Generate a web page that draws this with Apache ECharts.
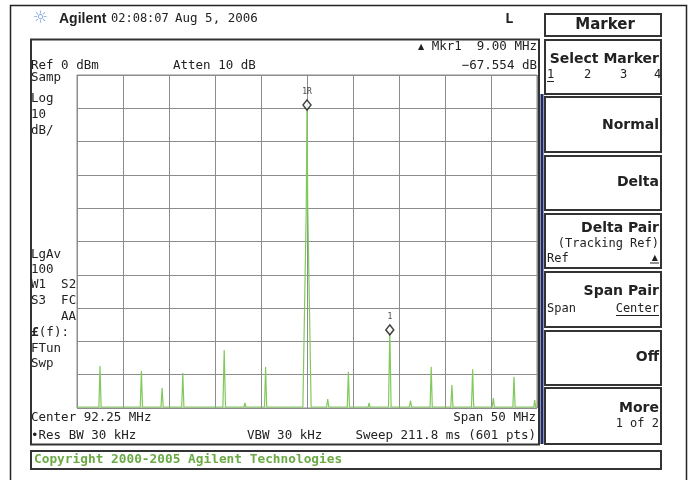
<!DOCTYPE html>
<html>
<head>
<meta charset="utf-8">
<script src="https://cdn.jsdelivr.net/npm/echarts@6/dist/echarts.min.js"></script>
<style>html,body{margin:0;padding:0;background:#fff;}#main{width:690px;height:480px;}</style>
</head>
<body>
<div id="main"></div>
<script>
const centerFreq = 92.25;          // MHz
const spanMHz = 50;                // MHz
const refLevel = 0;                // dBm
const dbPerDiv = 10;
const noiseFloor = -99.7;          // dBm
// spurious lines (MHz, dBm)
const spurFreqs  = [69.75, 74.25, 76.5, 78.75, 83.25, 85.5, 87.75, 94.5, 96.75, 99.0, 101.25, 103.5, 105.75, 108.0, 110.25, 112.5, 114.75, 117.0];
const spurLevels = [-87.4, -88.8, -94.0, -89.5, -82.6, -98.5, -87.7, -97.3, -89.1, -98.5, -76.55, -97.8, -87.6, -93.1, -88.4, -97.0, -90.6, -97.6];
const spurSkirts = [0.12, 0.12, 0.12, 0.12, 0.14, 0.1, 0.12, 0.12, 0.12, 0.1, 0.14, 0.12, 0.12, 0.12, 0.12, 0.12, 0.12, 0.1];
// main carrier trace points (offset from centre MHz, dBm)
const mainOffsets = [-0.45, -0.08, 0, 0.08, 0.45];
const mainLevels  = [-99.7, -40, -9.0, -40, -99.7];
const markerFreqs  = [92.25, 101.25];
const markerLevels = [-9.0, -76.55];
const markerNames  = ['1R', '1'];

// build trace (x = offset from centre, MHz)
let pts = [[-spanMHz / 2, noiseFloor], [spanMHz / 2, noiseFloor]];
spurFreqs.forEach((f, i) => {
  const o = f - centerFreq;
  pts.push([o - spurSkirts[i], noiseFloor], [o, spurLevels[i]], [o + spurSkirts[i], noiseFloor]);
});
mainOffsets.forEach((o, i) => pts.push([o, mainLevels[i]]));
const trace = pts.map((p, i) => [p[0], p[1], i]).sort((a, b) => a[0] - b[0] || a[2] - b[2]).map(p => [p[0], p[1]]);
const markers = markerFreqs.map((f, i) => ({ value: [f - centerFreq, markerLevels[i]], name: markerNames[i] }));

const MONO = '"DejaVu Sans Mono", monospace';
const SANS = '"DejaVu Sans", sans-serif';
const INK = '#222';
function txt(x, y, s, o) {
  return { type: 'text', x: x, y: y, z: 20,
    style: Object.assign({ text: s, fill: INK, font: '12.5px ' + MONO, align: 'left', verticalAlign: 'middle' }, o || {}) };
}
function box(x, y, w, h, lw, col) {
  return { type: 'rect', z: 15, shape: { x: x, y: y, width: w, height: h },
    style: { fill: 'transparent', stroke: col || '#333', lineWidth: lw || 2 } };
}
function hline(x1, x2, y, col, lw) {
  return { type: 'line', z: 20, shape: { x1: x1, y1: y, x2: x2, y2: y }, style: { stroke: col || INK, lineWidth: lw || 1 } };
}
const BOLD = 'bold 14px ' + SANS;
const graphics = [
  // outer frame
  box(10.5, 5.5, 676, 500, 1.5, '#222'),
  // header
  txt(33, 19, '\u263C', { fill: '#7ea6dc', font: '17px ' + SANS }),
  txt(59, 19, 'Agilent', { font: 'bold 14px "Liberation Sans", Arial, sans-serif' }),
  txt(111, 19, '02:08:07', { font: '12px ' + MONO }),
  txt(175, 19, 'Aug 5, 2006', { font: '12.5px ' + MONO }),
  txt(505, 19, 'L', { font: 'bold 14px ' + MONO }),
  // display frame
  box(31, 39.5, 508, 405, 2, '#333'),
  txt(537, 47, '{s|\u25B2} Mkr1  9.00 MHz', { align: 'right', rich: { s: { font: '8px ' + SANS, fill: INK } } }),
  txt(31, 66, 'Ref 0 dBm'),
  txt(173, 66, 'Atten 10 dB'),
  txt(537, 66, '\u221267.554 dB', { align: 'right' }),
  txt(31, 78, 'Samp'),
  txt(31, 99, 'Log'),
  txt(31, 115, '10'),
  txt(31, 131, 'dB/'),
  txt(31, 255, 'LgAv'),
  txt(31, 270, '100'),
  txt(31, 285, 'W1  S2'),
  txt(31, 301, 'S3  FC'),
  txt(76, 317, 'AA', { align: 'right' }),
  txt(31, 333, '{b|\u00A3}(f):', { rich: { b: { font: 'bold 13px ' + MONO, fill: INK } } }),
  txt(31, 349, 'FTun'),
  txt(31, 364, 'Swp'),
  txt(31, 418, 'Center 92.25 MHz'),
  txt(536, 418, 'Span 50 MHz', { align: 'right' }),
  txt(31, 436, '\u2022Res BW 30 kHz'),
  txt(247, 436, 'VBW 30 kHz'),
  txt(536, 436, 'Sweep 211.8 ms (601 pts)', { align: 'right' }),
  // copyright
  box(31, 451, 630, 18, 2, '#333'),
  txt(34, 460, 'Copyright 2000-2005 Agilent Technologies', { fill: '#6aaa45', font: 'bold 12.8px ' + MONO }),
  // soft keys
  box(545, 14, 116, 22, 2, '#333'),
  txt(605, 25, 'Marker', { align: 'center', font: 'bold 15px ' + SANS }),
  { type: 'rect', z: 14, shape: { x: 540.5, y: 94, width: 3, height: 350 }, style: { fill: '#1f2b66' } },
  box(545, 40, 116, 54), txt(659, 59, 'Select Marker', { align: 'right', font: BOLD }),
  txt(547, 75, '1', { font: '12px ' + MONO }), hline(547, 554, 81.5),
  txt(584, 75, '2', { font: '12px ' + MONO }),
  txt(620, 75, '3', { font: '12px ' + MONO }),
  txt(654, 75, '4', { font: '12px ' + MONO }),
  box(545, 97, 116, 55), txt(659, 125, 'Normal', { align: 'right', font: BOLD }),
  box(545, 156, 116, 54), txt(659, 182, 'Delta', { align: 'right', font: BOLD }),
  box(545, 214, 116, 54), txt(659, 228, 'Delta Pair', { align: 'right', font: BOLD }),
  txt(659, 244, '(Tracking Ref)', { align: 'right', font: '12px ' + MONO }),
  txt(547, 259, 'Ref', { font: '12px ' + MONO }),
  txt(658, 258, '\u25B2', { align: 'right', font: '8px ' + SANS }), hline(650, 659, 263),
  box(545, 272, 116, 55), txt(659, 291, 'Span Pair', { align: 'right', font: BOLD }),
  txt(547, 309, 'Span', { font: '12px ' + MONO }),
  txt(659, 309, 'Center', { align: 'right', font: '12px ' + MONO }), hline(616, 659, 315.5),
  box(545, 331, 116, 54), txt(659, 357, 'Off', { align: 'right', font: BOLD }),
  box(545, 388, 116, 56), txt(659, 408, 'More', { align: 'right', font: BOLD }),
  txt(659, 424, '1 of 2', { align: 'right', font: '12px ' + MONO })
];

const GRID = '#8c8c8c';
const chart = echarts.init(document.getElementById('main'), null, { renderer: 'canvas' });
chart.setOption({
  animation: false,
  backgroundColor: '#fff',
  grid: { left: 77, top: 75, width: 460, height: 333, show: true, borderColor: GRID, borderWidth: 1, backgroundColor: 'transparent' },
  xAxis: {
    type: 'value', min: -spanMHz / 2, max: spanMHz / 2, interval: spanMHz / 10,
    axisLine: { show: true, lineStyle: { color: GRID } }, axisTick: { show: false }, axisLabel: { show: false },
    splitLine: { show: true, lineStyle: { color: GRID, width: 1 } }
  },
  yAxis: {
    type: 'value', min: refLevel - 10 * dbPerDiv, max: refLevel, interval: dbPerDiv,
    axisLine: { show: true, lineStyle: { color: GRID } }, axisTick: { show: false }, axisLabel: { show: false },
    splitLine: { show: true, lineStyle: { color: GRID, width: 1 } }
  },
  series: [
    { type: 'line', data: trace, showSymbol: false, symbol: 'none', z: 3,
      lineStyle: { color: '#80c95a', width: 1.2 } },
    { type: 'scatter', data: markers, symbol: 'diamond', symbolSize: [8, 10], z: 5,
      itemStyle: { color: '#fff', borderColor: '#111', borderWidth: 1.5 },
      label: { show: true, position: 'top', distance: 3, formatter: p => p.name, color: '#111', fontSize: 8, fontFamily: MONO } }
  ],
  graphic: graphics
});
</script>
</body>
</html>
